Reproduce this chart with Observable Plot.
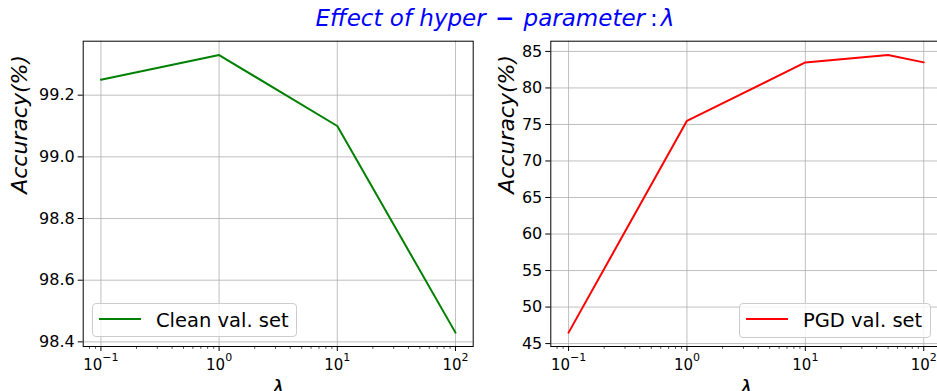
<!DOCTYPE html>
<html>
<head>
<meta charset="utf-8">
<script src="https://cdn.jsdelivr.net/npm/d3@7"></script>
<script src="https://cdn.jsdelivr.net/npm/@observablehq/plot@0.6"></script>
<style>
  body { margin: 0; background: #fff; }
  #root { position: relative; width: 937px; height: 391px; overflow: hidden; font-family: "DejaVu Sans"; background: #fff; }
  #title { position: absolute; left: 495px; top: 7px; transform: translateX(-50%); white-space: nowrap;
           color: #0000ff; font-style: italic; font-size: 23px; line-height: 23px; }
  #title .up { font-style: normal; font-weight: bold; }
  #row { position: absolute; top: 34px; left: 0; display: flex; width: 941px; }
  #row svg { flex: none; }
  .legend { position: absolute; box-sizing: border-box; border: 1px solid #cccccc; border-radius: 4px;
            background: rgba(255,255,255,0.8); display: flex; align-items: center; padding-left: 6px;
            font-size: 19.5px; white-space: nowrap; color: #000; }
  .legend svg { margin-top: -3px; }
  .legend span { margin-left: 15px; }
</style>
</head>
<body>
<div id="root">
  <div id="title">Effect of hyper <span class="up" style="margin:0 2px">−</span> parameter<span class="up" style="font-weight:normal;margin:0 3px 0 5px">:</span>λ</div>
  <div id="row"></div>
</div>
<script>
// ---- data ----
const lambdaClean = [0.1, 1, 10, 100];
const accClean = [99.25, 99.33, 99.10, 98.43];
const lambdaPGD = [0.1, 1, 10, 50, 100];
const accPGD = [46.5, 75.5, 83.5, 84.5, 83.5];
const seriesNames = ["Clean val. set", "PGD val. set"];
const seriesColors = ["#008000", "#ff0000"];
const xTicks = [0.1, 1, 10, 100];
const xMinorTicks = [0.08, 0.09, 0.2, 0.3, 0.4, 0.5, 0.6, 0.7, 0.8, 0.9,
                     2, 3, 4, 5, 6, 7, 8, 9, 20, 30, 40, 50, 60, 70, 80, 90];
const yTicksClean = [98.4, 98.6, 98.8, 99.0, 99.2];
const yTicksPGD = [45, 50, 55, 60, 65, 70, 75, 80, 85];
const yLabel = "Accuracy(%)";
const xLabel = "λ";

const xDomain = [Math.pow(10, -1.15), Math.pow(10, 2.15)];
function yDom(v) { const lo = d3.min(v), hi = d3.max(v), m = (hi - lo) * 0.05; return [lo - m, hi + m]; }
const supMinus = (e) => (e < 0 ? "−" + (-e) : String(e));

function panel({xs, ys, color, yTicks, yFmt, width, marginLeft, marginRight, labelDx}) {
  const data = xs.map((x, i) => ({x, y: ys[i]}));
  const svg = Plot.plot({
    width, height: 357, marginTop: 6.7, marginBottom: 45, marginLeft, marginRight,
    style: {fontFamily: "DejaVu Sans", fontSize: "16px", background: "transparent", color: "#000", overflow: "visible"},
    x: {type: "log", domain: xDomain},
    y: {domain: yDom(ys)},
    marks: [
      Plot.gridX(xTicks, {stroke: "#b0b0b0", strokeOpacity: 1, strokeWidth: 0.8}),
      Plot.gridY(yTicks, {stroke: "#b0b0b0", strokeOpacity: 1, strokeWidth: 0.8}),
      Plot.axisX(xMinorTicks, {tickSize: 2.8, tickFormat: () => "", strokeWidth: 0.7, label: null}),
      Plot.axisX(xTicks, {tickSize: 5, tickPadding: 7.4, fontSize: 15, label: null,
        tickFormat: (d) => "10^" + supMinus(Math.round(Math.log10(d)))}),
      Plot.axisY(yTicks, {tickSize: 5, tickPadding: 3.5, fontSize: 16, label: null, tickFormat: yFmt}),
      Plot.line(data, {x: "x", y: "y", stroke: color, strokeWidth: 2}),
      Plot.frame({stroke: "#000", strokeWidth: 1}),
      Plot.text([yLabel], {text: d => d, frameAnchor: "left", rotate: -90, dx: labelDx, lineAnchor: "middle",
        fontSize: 22, fontStyle: "italic"}),
      Plot.text([xLabel], {text: d => d, frameAnchor: "bottom", dy: 41, lineAnchor: "middle",
        fontSize: 22, fontStyle: "italic"})
    ]
  });
  const ns = "http://www.w3.org/2000/svg";
  svg.querySelectorAll('g[aria-label="x-axis tick label"] text').forEach(t => {
    const parts = t.textContent.split("^");
    if (parts.length === 2) {
      t.textContent = "";
      const a = document.createElementNS(ns, "tspan"); a.textContent = parts[0];
      const b = document.createElementNS(ns, "tspan"); b.textContent = parts[1];
      b.setAttribute("font-size", "11"); b.setAttribute("dy", "-8.5");
      t.append(a, b);
    }
  });
  return svg;
}

const row = document.getElementById("row");
row.append(
  panel({xs: lambdaClean, ys: accClean, color: seriesColors[0], yTicks: yTicksClean, yFmt: d3.format(".1f"),
         width: 478, marginLeft: 82.7, marginRight: 5.3, labelDx: -63.7}),
  panel({xs: lambdaPGD, ys: accPGD, color: seriesColors[1], yTicks: yTicksPGD, yFmt: d3.format("d"),
         width: 463, marginLeft: 72.3, marginRight: 0, labelDx: -44.3})
);

const legendBoxes = [
  {left: 92, top: 303, width: 205, height: 34},
  {left: 739, top: 303, width: 192, height: 35}
];
const root = document.getElementById("root");
seriesNames.forEach((name, i) => {
  const b = legendBoxes[i];
  const div = document.createElement("div");
  div.className = "legend";
  Object.assign(div.style, {left: b.left + "px", top: b.top + "px", width: b.width + "px", height: b.height + "px"});
  div.innerHTML = `<svg width="42" height="4"><line x1="0" y1="2" x2="42" y2="2" stroke="${seriesColors[i]}" stroke-width="2"/></svg><span>${name}</span>`;
  root.append(div);
});
</script>
</body>
</html>
